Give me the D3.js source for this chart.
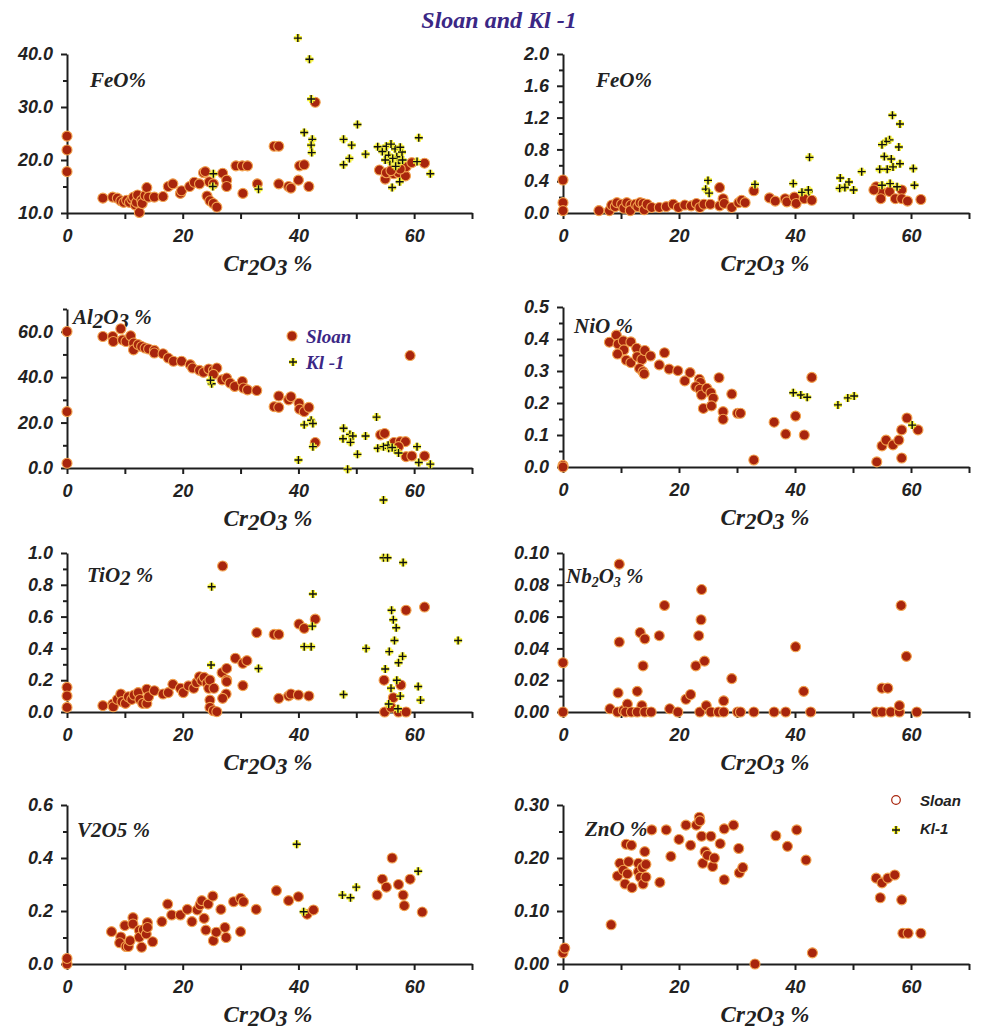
<!DOCTYPE html>
<html lang="en">
<head>
<meta charset="utf-8" />
<style>
  body { margin: 0; background: #fff; }
  svg { display: block; }
  .tick text { font-family: "Liberation Sans", Arial, sans-serif; font-weight: bold; font-style: italic; font-size: 17px; fill: #222; }
  .axis path, .axis line { stroke: #1e1e1e; }
  .serif { font-family: "Liberation Serif", "Times New Roman", serif; font-weight: bold; font-style: italic; }
</style>
</head>
<body>
<svg width="988" height="1033"></svg>
<script src="https://d3js.org/d3.v7.min.js"></script>
<script>
// [Cr2O3 %, oxide %]
var feoA_sloan = [[0,24.5],[0,21.9],[0,17.8],[6.2,12.8],[7.9,13.0],[8.7,12.8],[9.3,12.3],[9.8,12.0],[10.3,12.4],[10.8,12.0],[11.2,12.6],[11.5,13.0],[11.8,11.5],[12.5,10.1],[12.0,12.0],[12.2,13.4],[12.9,12.4],[13.0,11.8],[13.5,13.3],[13.8,14.8],[14.1,13.0],[15.1,13.0],[16.6,13.1],[17.5,15.0],[18.3,15.5],[19.6,13.7],[19.8,14.2],[21.2,15.0],[22.0,15.8],[22.9,15.5],[23.6,17.6],[23.9,17.8],[24.2,13.2],[24.6,15.9],[24.7,12.3],[25.3,11.8],[25.9,11.1],[25.3,15.5],[26.9,17.5],[27.6,16.2],[27.6,15.0],[29.2,18.9],[30.3,18.9],[31.2,18.9],[30.4,13.7],[32.9,15.5],[35.8,22.6],[36.6,22.6],[36.6,15.5],[38.3,15.0],[38.7,14.7],[40.0,16.2],[40.2,18.9],[41.0,19.1],[41.8,15.0],[42.9,30.9],[54.0,18.1],[55.0,16.4],[55.2,17.6],[56.5,17.4],[57.3,17.6],[58.5,17.0],[58.6,18.7],[59.6,19.5],[61.8,19.4],[57.6,18.3],[56.0,18.0]];
var feoA_kl = [[39.9,43.0],[41.9,39.0],[42.2,31.5],[41.0,25.2],[42.4,23.9],[42.2,22.8],[42.3,21.4],[25.3,17.4],[25.2,15.0],[33.1,14.5],[47.8,23.9],[49.2,22.8],[50.2,26.7],[48.8,20.3],[47.8,19.1],[51.6,21.1],[53.7,22.5],[54.7,21.8],[55.6,20.9],[56.7,22.1],[57.0,20.6],[57.9,21.5],[55.8,19.7],[57.3,19.4],[60.5,19.7],[60.8,24.2],[62.8,17.4],[57.5,15.9],[56.2,14.8],[54.5,21.6],[56.3,20.3],[55.2,22.6],[56.0,23.0],[57.6,22.4],[58.0,20.0],[56.8,18.8],[55.0,20.0]];

var feoB_sloan = [[0,0.415],[0,0.13],[0,0.03],[6.2,0.03],[8.0,0.03],[8.4,0.10],[9.0,0.08],[9.3,0.13],[10.1,0.11],[10.5,0.06],[11.0,0.13],[11.7,0.10],[11.6,0.03],[12.5,0.11],[12.9,0.08],[13.3,0.13],[13.8,0.12],[14.0,0.04],[14.5,0.11],[15.3,0.07],[16.6,0.07],[17.8,0.08],[19.0,0.11],[19.9,0.07],[21.0,0.10],[22.1,0.09],[23.0,0.12],[23.6,0.07],[24.3,0.11],[25.4,0.11],[27.0,0.32],[27.0,0.09],[27.6,0.18],[27.8,0.12],[29.1,0.07],[30.3,0.13],[30.8,0.16],[31.4,0.13],[32.9,0.28],[35.6,0.19],[36.6,0.15],[38.3,0.18],[38.6,0.14],[39.9,0.20],[40.2,0.12],[41.6,0.18],[42.9,0.16],[54.0,0.33],[55.0,0.26],[54.8,0.18],[56.3,0.27],[57.3,0.18],[58.4,0.29],[58.4,0.18],[59.4,0.15],[61.7,0.17],[53.6,0.29]];
var feoB_kl = [[25.0,0.41],[24.6,0.30],[25.2,0.25],[33.1,0.36],[39.7,0.37],[42.5,0.70],[41.2,0.26],[42.4,0.27],[56.8,1.23],[58.1,1.12],[56.3,0.92],[55.7,0.90],[55.0,0.86],[57.9,0.83],[55.4,0.71],[56.6,0.68],[58.1,0.62],[54.6,0.55],[55.9,0.55],[56.9,0.58],[60.4,0.56],[60.6,0.35],[51.5,0.52],[47.8,0.44],[49.3,0.39],[47.7,0.31],[48.6,0.32],[50.1,0.29],[55.0,0.35],[56.4,0.37],[57.6,0.33],[42.3,0.29]];

var alA_sloan = [[0,60.1],[0,24.8],[0,2.1],[6.2,57.9],[7.9,57.9],[8.0,55.7],[9.3,61.3],[9.6,56.4],[10.2,55.7],[11.0,58.2],[11.5,55.0],[11.5,52.0],[12.3,54.3],[12.9,53.5],[13.5,52.8],[14.1,52.4],[15.1,51.8],[15.1,50.6],[16.6,50.3],[17.5,48.4],[18.4,47.0],[19.8,47.0],[21.3,45.5],[21.7,44.0],[22.9,43.0],[23.6,42.1],[24.5,43.6],[25.3,43.0],[25.9,44.0],[25.3,41.2],[26.8,38.8],[27.6,39.6],[28.2,37.4],[29.0,35.9],[30.3,38.1],[30.5,35.2],[31.2,34.4],[32.8,34.1],[35.8,27.0],[36.6,31.7],[36.6,26.7],[38.3,30.0],[38.7,31.4],[40.1,28.5],[40.2,25.9],[41.0,24.8],[41.8,26.7],[42.9,11.2],[59.3,49.5],[54.2,14.6],[54.9,15.2],[56.5,11.2],[57.6,11.6],[58.5,11.6],[58.6,5.0],[59.6,5.3],[61.8,5.3],[57.3,9.4]];
var alA_kl = [[25.0,37.1],[24.8,38.6],[40.0,3.5],[41.0,19.0],[42.2,21.0],[42.5,19.6],[42.5,9.4],[53.5,22.4],[47.8,17.5],[48.9,14.8],[49.4,14.1],[47.7,12.9],[49.0,11.3],[51.6,14.1],[50.2,6.0],[48.5,-0.5],[54.7,-14.1],[53.7,8.7],[54.7,9.4],[55.6,8.7],[56.7,8.0],[57.3,6.6],[60.5,9.4],[60.8,2.4],[62.8,1.7],[55.5,10.0],[56.2,9.0]];

var niB_sloan = [[0,0.005],[0,0.0],[8.0,0.39],[9.2,0.412],[9.5,0.384],[10.4,0.394],[10.5,0.366],[11.7,0.391],[9.4,0.353],[10.9,0.334],[11.7,0.326],[12.7,0.371],[12.8,0.345],[13.6,0.336],[13.2,0.308],[13.8,0.298],[14.0,0.291],[14.1,0.364],[15.1,0.347],[16.6,0.319],[17.5,0.357],[18.3,0.306],[19.8,0.301],[21.0,0.269],[21.9,0.295],[23.5,0.274],[23.7,0.264],[22.9,0.251],[23.6,0.243],[23.9,0.225],[24.8,0.246],[25.5,0.232],[25.9,0.215],[24.2,0.183],[25.6,0.191],[26.9,0.279],[27.6,0.173],[27.6,0.149],[29.1,0.228],[30.1,0.168],[30.6,0.168],[32.9,0.022],[36.4,0.140],[38.4,0.103],[40.1,0.159],[41.6,0.100],[42.9,0.280],[54.1,0.016],[55.0,0.066],[55.7,0.084],[56.9,0.069],[57.9,0.084],[58.4,0.028],[58.4,0.116],[59.3,0.153],[61.2,0.116]];
var niB_kl = [[39.7,0.232],[41.0,0.225],[42.1,0.218],[47.4,0.194],[49.1,0.216],[50.2,0.222],[60.2,0.131]];

var tiA_sloan = [[0,0.155],[0,0.101],[0,0.029],[6.2,0.04],[7.9,0.05],[8.0,0.033],[8.7,0.079],[9.3,0.113],[9.5,0.065],[10.1,0.054],[10.6,0.096],[11.2,0.079],[11.6,0.107],[12.3,0.122],[12.6,0.079],[13.1,0.054],[13.8,0.143],[13.8,0.054],[14.1,0.096],[15.1,0.134],[16.6,0.113],[17.5,0.122],[18.3,0.174],[19.6,0.149],[20.1,0.122],[21.0,0.164],[21.9,0.149],[22.4,0.185],[22.9,0.222],[23.3,0.197],[23.7,0.218],[24.2,0.181],[24.5,0.149],[24.7,0.201],[24.7,0.075],[24.7,0.029],[25.4,0.149],[25.3,0.008],[25.9,0.002],[26.9,0.918],[26.8,0.247],[27.6,0.274],[27.6,0.201],[27.6,0.191],[27.5,0.113],[26.9,0.086],[29.1,0.338],[30.4,0.306],[31.1,0.323],[30.4,0.166],[32.8,0.499],[35.8,0.488],[36.6,0.488],[36.6,0.086],[38.3,0.101],[38.7,0.113],[40.0,0.107],[40.1,0.553],[41.0,0.526],[41.8,0.101],[42.9,0.584],[54.8,0.20],[56.4,0.09],[54.9,0.0],[57.3,0.0],[58.6,0.0],[58.6,0.64],[61.8,0.66],[57.7,0.17],[56.0,0.03]];
var tiA_kl = [[25.0,0.788],[24.9,0.296],[33.1,0.274],[41.0,0.411],[42.2,0.411],[42.4,0.540],[42.5,0.742],[47.8,0.11],[51.7,0.40],[54.7,0.97],[55.4,0.97],[58.1,0.94],[56.1,0.64],[56.4,0.58],[56.9,0.53],[56.6,0.45],[55.7,0.38],[57.3,0.31],[58.0,0.35],[55.0,0.27],[57.0,0.20],[56.0,0.15],[57.6,0.10],[55.6,0.05],[60.7,0.16],[61.1,0.075],[67.6,0.45],[57.2,0.02]];

var nbB_sloan = [[0,0.031],[0,0],[8.1,0.002],[9.4,0],[9.5,0.012],[9.7,0.093],[9.7,0.044],[10.4,0.001],[11.1,0.005],[10.8,0],[11.8,0],[12.8,0.013],[13.3,0.050],[14.1,0.046],[13.8,0.029],[13.6,0.004],[12.8,0],[14.1,0],[15.2,0],[16.6,0.048],[17.5,0.067],[18.4,0.002],[19.8,0],[21.2,0.008],[22.0,0.011],[22.9,0.029],[23.4,0.048],[23.8,0.058],[23.9,0.077],[24.4,0.032],[23.6,0],[24.7,0.004],[25.5,0],[26.8,0],[27.7,0.007],[27.7,0],[29.1,0.021],[30.1,0],[30.6,0],[32.9,0],[36.4,0],[38.4,0],[40.1,0.041],[41.5,0.013],[42.7,0],[54.0,0],[55.0,0],[55.0,0.015],[56.0,0.015],[56.5,0],[58.0,0],[58.0,0.004],[58.3,0.067],[59.2,0.035],[61.0,0]];
var nbB_kl = [];

var vA_sloan = [[0,0],[0,0.021],[7.7,0.122],[9.3,0.102],[9.1,0.080],[10.0,0.145],[10.2,0.066],[10.6,0.066],[10.9,0.088],[11.4,0.175],[11.4,0.151],[12.5,0.127],[12.5,0.101],[12.9,0.063],[13.2,0.129],[13.7,0.113],[13.9,0.156],[13.9,0.138],[14.8,0.084],[16.4,0.160],[17.4,0.226],[18.1,0.185],[19.6,0.185],[20.8,0.206],[21.6,0.160],[22.5,0.204],[23.0,0.223],[23.3,0.239],[23.7,0.172],[24.0,0.128],[24.4,0.226],[25.2,0.256],[25.3,0.088],[25.8,0.120],[26.6,0.206],[27.3,0.138],[27.5,0.100],[28.8,0.235],[30.0,0.248],[30.5,0.235],[30.0,0.122],[32.7,0.206],[36.2,0.277],[38.3,0.239],[40.0,0.254],[41.5,0.188],[42.6,0.204],[53.6,0.26],[54.5,0.32],[55.2,0.29],[56.2,0.40],[57.3,0.30],[58.1,0.26],[58.3,0.22],[59.3,0.32],[61.4,0.196]];
var vA_kl = [[39.7,0.452],[40.9,0.197],[47.6,0.26],[49.0,0.25],[50.0,0.29],[60.7,0.35]];

var znB_sloan = [[0,0.021],[0.3,0.030],[8.3,0.074],[9.4,0.166],[9.8,0.19],[10.4,0.177],[10.9,0.226],[11.1,0.170],[10.7,0.151],[11.3,0.193],[11.8,0.224],[11.9,0.144],[13.0,0.19],[13.0,0.174],[13.3,0.164],[13.7,0.182],[13.8,0.151],[14.1,0.212],[14.3,0.188],[14.3,0.164],[15.3,0.253],[16.7,0.154],[17.8,0.253],[18.6,0.203],[20.0,0.235],[21.2,0.262],[22.0,0.224],[23.0,0.262],[23.5,0.277],[23.6,0.270],[23.9,0.241],[24.1,0.19],[24.5,0.212],[24.9,0.205],[25.5,0.241],[25.8,0.184],[26.1,0.200],[27.1,0.227],[27.8,0.159],[27.8,0.255],[29.4,0.262],[30.3,0.218],[30.4,0.172],[31.0,0.182],[33.1,0],[36.7,0.242],[38.7,0.222],[40.3,0.253],[41.9,0.196],[43.0,0.021],[54.0,0.162],[54.7,0.125],[55.0,0.153],[56.0,0.162],[57.2,0.168],[58.4,0.121],[58.6,0.058],[59.5,0.058],[61.7,0.058]];
var znB_kl = [];

var xTicks = [0, 10, 20, 30, 40, 50, 60, 70];
var xLabels = [0, 20, 40, 60];

var svg = d3.select("svg");
var sloanFill = "#a8250d", sloanEdge = "#f2a24e", purple = "#3b2785";

var cols = [
  { x0: 67, x1: 472, title: 268 },
  { x0: 563, x1: 969, title: 765 }
];

// label pieces: [text, dy, size]
var panels = [
  { col: 0, yb: 213, yt: 54, dom: [10, 40], major: [10, 20, 30, 40], minor: [15, 25, 35], fmt: ".1f",
    s: feoA_sloan, k: feoA_kl, lx: 90, ly: 87, label: [["FeO%", 0, 21]] },
  { col: 1, yb: 213, yt: 54, dom: [0, 2], major: [0, 0.4, 0.8, 1.2, 1.6, 2.0], minor: [0.2, 0.6, 1.0, 1.4, 1.8], fmt: ".1f",
    s: feoB_sloan, k: feoB_kl, lx: 596, ly: 87, label: [["FeO%", 0, 21]] },
  { col: 0, yb: 468, yt: 309, dom: [0, 70], major: [0, 20, 40, 60], minor: [10, 30, 50, 70], fmt: ".1f",
    s: alA_sloan, k: alA_kl, lx: 73, ly: 324, label: [["Al", 0, 21], ["2", 4, 21], ["O", -4, 21], ["3", 4, 21], [" %", -4, 21]] },
  { col: 1, yb: 467, yt: 307, dom: [0, 0.5], major: [0, 0.1, 0.2, 0.3, 0.4, 0.5], minor: [0.05, 0.15, 0.25, 0.35, 0.45], fmt: ".1f",
    s: niB_sloan, k: niB_kl, lx: 574, ly: 333, label: [["NiO %", 0, 21]] },
  { col: 0, yb: 712, yt: 553, dom: [0, 1], major: [0, 0.2, 0.4, 0.6, 0.8, 1.0], minor: [0.1, 0.3, 0.5, 0.7, 0.9], fmt: ".1f",
    s: tiA_sloan, k: tiA_kl, lx: 87, ly: 582, label: [["TiO", 0, 21], ["2", 3, 21], [" %", -3, 21]] },
  { col: 1, yb: 712, yt: 553, dom: [0, 0.1], major: [0, 0.02, 0.04, 0.06, 0.08, 0.10], minor: [0.01, 0.03, 0.05, 0.07, 0.09], fmt: ".2f",
    s: nbB_sloan, k: nbB_kl, lx: 566, ly: 583, label: [["Nb", 0, 21], ["2", 4, 14], ["O", -4, 21], ["3", 4, 14], [" %", -4, 21]] },
  { col: 0, yb: 964, yt: 805, dom: [0, 0.6], major: [0, 0.2, 0.4, 0.6], minor: [0.1, 0.3, 0.5], fmt: ".1f",
    s: vA_sloan, k: vA_kl, lx: 77, ly: 837, label: [["V2O5 %", 0, 21]] },
  { col: 1, yb: 964, yt: 805, dom: [0, 0.3], major: [0, 0.1, 0.2, 0.3], minor: [0.05, 0.15, 0.25], fmt: ".2f",
    s: znB_sloan, k: znB_kl, lx: 585, ly: 836, label: [["ZnO %", 0, 21]] }
];

function plus(g, x, y) {
  g.append("path").attr("d", "M" + (x - 4) + "," + y + "H" + (x + 4) + "M" + x + "," + (y - 4) + "V" + (y + 4))
    .attr("stroke", "#f5f03a").attr("stroke-width", 4.2).attr("fill", "none");
  g.append("path").attr("d", "M" + (x - 4) + "," + y + "H" + (x + 4) + "M" + x + "," + (y - 4) + "V" + (y + 4))
    .attr("stroke", "#111").attr("stroke-width", 1.4).attr("fill", "none");
}

panels.forEach(function (p) {
  var c = cols[p.col];
  var x = d3.scaleLinear().domain([0, 70]).range([c.x0, c.x1]);
  var y = d3.scaleLinear().domain(p.dom).range([p.yb, p.yt]);
  var g = svg.append("g");

  // axes
  var ax = g.append("g").attr("class", "axis").attr("transform", "translate(0," + p.yb + ")")
    .call(d3.axisBottom(x).tickValues(xTicks).tickSize(6).tickSizeOuter(0).tickPadding(10)
      .tickFormat(function (d) { return xLabels.indexOf(d) >= 0 ? d : ""; }));
  ax.selectAll("path, line").attr("stroke-width", 2);
  ax.selectAll("text").style("font-size", "18px");

  var ay = g.append("g").attr("class", "axis").attr("transform", "translate(" + c.x0 + ",0)")
    .call(d3.axisLeft(y).tickValues(p.major).tickSize(6).tickSizeOuter(0).tickPadding(8).tickFormat(d3.format(p.fmt)));
  ay.selectAll("path, line").attr("stroke-width", 2);
  ay.selectAll("text").style("font-size", "18px");
  var am = g.append("g").attr("class", "axis").attr("transform", "translate(" + c.x0 + ",0)")
    .call(d3.axisLeft(y).tickValues(p.minor).tickSize(4).tickSizeOuter(0).tickFormat(""));
  am.select("path").remove();
  am.selectAll("line").attr("stroke-width", 2);

  // x-axis title
  var t = g.append("text").attr("class", "serif").attr("x", c.title).attr("y", p.yb + 58)
    .attr("text-anchor", "middle").style("font-size", "23px").attr("fill", "#222");
  t.append("tspan").text("Cr");
  t.append("tspan").attr("dy", 4).text("2");
  t.append("tspan").attr("dy", -4).text("O");
  t.append("tspan").attr("dy", 4).text("3");
  t.append("tspan").attr("dy", -4).text(" %");

  // panel label
  var lt = g.append("text").attr("class", "serif").attr("x", p.lx).attr("y", p.ly).attr("fill", "#222");
  p.label.forEach(function (s) {
    lt.append("tspan").attr("dy", s[1]).style("font-size", s[2] + "px").text(s[0]);
  });

  // points
  p.s.forEach(function (d) {
    g.append("circle").attr("cx", x(d[0])).attr("cy", y(d[1])).attr("r", 5)
      .attr("fill", sloanFill).attr("stroke", sloanEdge).attr("stroke-width", 1.1);
  });
  p.k.forEach(function (d) { plus(g, x(d[0]), y(d[1])); });
});

// legend in Al2O3 panel
svg.append("circle").attr("cx", 292).attr("cy", 336).attr("r", 5)
  .attr("fill", sloanFill).attr("stroke", sloanEdge).attr("stroke-width", 1.1);
plus(svg, 293, 362);
svg.append("text").attr("class", "serif").attr("x", 306).attr("y", 343).attr("fill", purple)
  .style("font-size", "19px").text("Sloan");
svg.append("text").attr("class", "serif").attr("x", 306).attr("y", 369).attr("fill", purple)
  .style("font-size", "19px").text("Kl -1");

// legend in ZnO panel
svg.append("circle").attr("cx", 896).attr("cy", 800).attr("r", 4.3)
  .attr("fill", "#fff").attr("stroke", sloanFill).attr("stroke-width", 1.2);
plus(svg, 896, 830);
svg.append("text").attr("x", 920).attr("y", 806).style("font-family", "Liberation Sans, Arial, sans-serif")
  .style("font-weight", "bold").style("font-style", "italic").style("font-size", "15px").attr("fill", "#222").text("Sloan");
svg.append("text").attr("x", 920).attr("y", 834).style("font-family", "Liberation Sans, Arial, sans-serif")
  .style("font-weight", "bold").style("font-style", "italic").style("font-size", "15px").attr("fill", "#222").text("Kl-1");

// title
svg.append("text").attr("class", "serif").attr("x", 499).attr("y", 28).attr("text-anchor", "middle")
  .attr("fill", purple).style("font-size", "24px").text("Sloan and Kl -1");
</script>
</body>
</html>
